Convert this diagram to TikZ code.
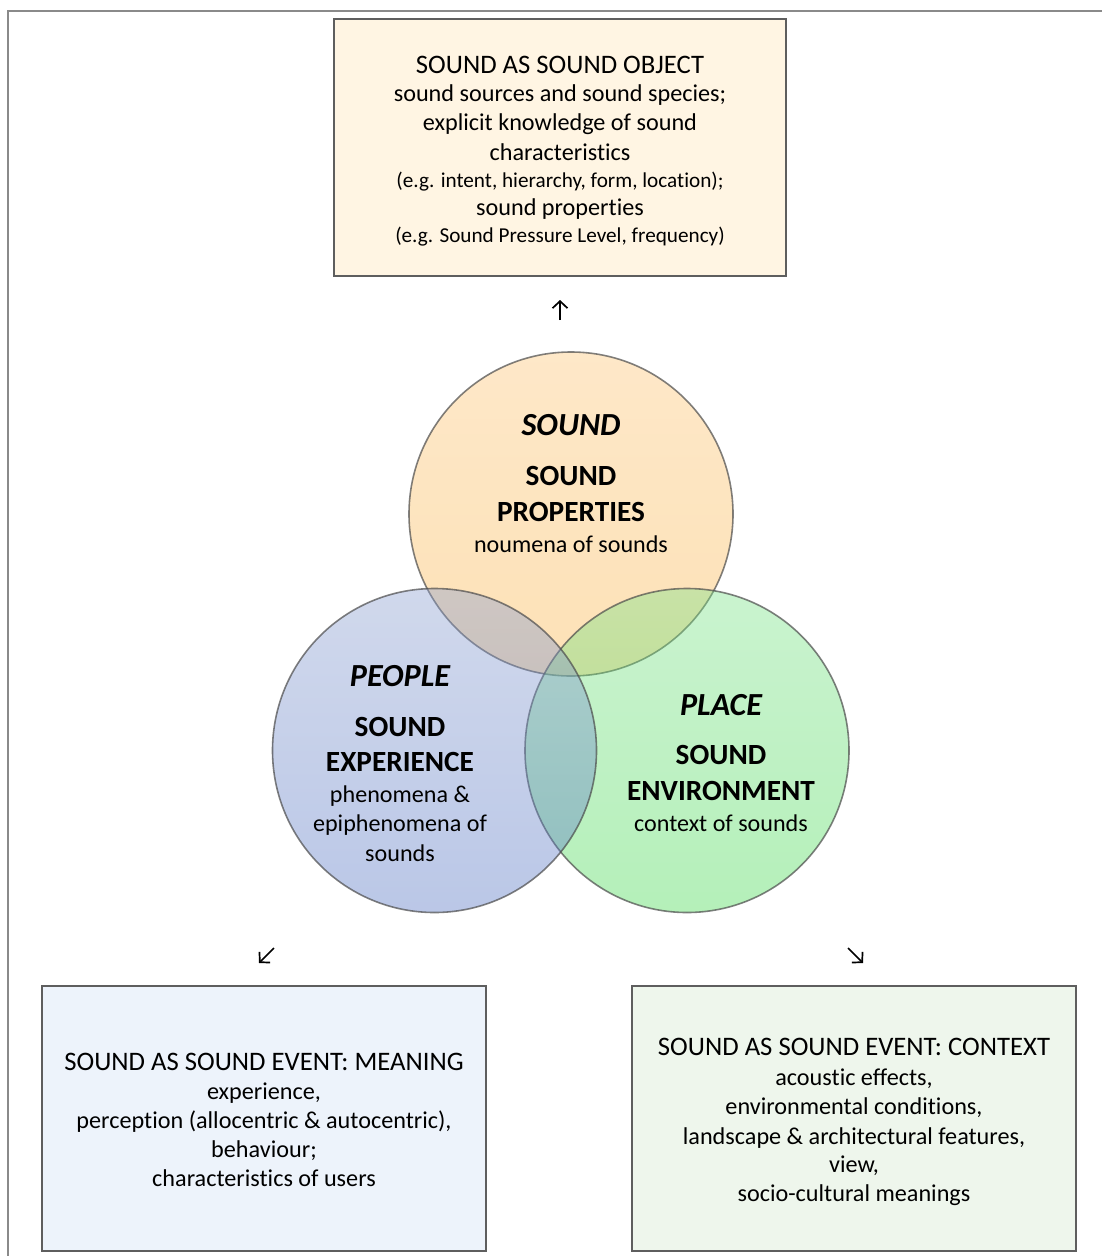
\documentclass[tikz,border=0pt]{standalone}
\usepackage{fontspec}
\setmainfont{Carlito}[Ligatures=NoCommon]
\usetikzlibrary{arrows.meta}

\definecolor{framegray}{HTML}{8A8A8A}
\definecolor{boxline}{HTML}{5E5E5E}
\definecolor{objfill}{HTML}{FFF5E3}
\definecolor{meanfill}{HTML}{EDF3FB}
\definecolor{ctxfill}{HTML}{EEF6EC}
\definecolor{soundtop}{HTML}{FCC576}
\definecolor{soundbot}{HTML}{FAB448}
\definecolor{peopletop}{HTML}{8A9ECF}
\definecolor{peoplebot}{HTML}{5373C3}
\definecolor{placetop}{HTML}{7AE187}
\definecolor{placebot}{HTML}{44D950}
\definecolor{ringgray}{HTML}{4A4A4A}

\tikzset{
  x=1pt, y=-1pt,
  infobox/.style={draw=boxline, line width=1.1pt},
  ring/.style={circle, minimum size=324pt, inner sep=0pt, draw=ringgray,
    line width=1.6pt, draw opacity=0.7, fill opacity=0.4},
  title/.style={anchor=base, inner sep=0pt, font=\fontsize{26.7}{32}\selectfont},
  body/.style={anchor=base, inner sep=0pt, font=\fontsize{24.2}{29}\selectfont},
  fine/.style={anchor=base, inner sep=0pt, font=\fontsize{21.2}{25}\selectfont},
  theme/.style={anchor=base, inner sep=0pt, font=\fontsize{32.2}{38}\selectfont\bfseries\itshape},
  aspect/.style={anchor=base, inner sep=0pt, font=\fontsize{29.3}{35}\selectfont\bfseries},
  gloss/.style={anchor=base, inner sep=0pt, font=\fontsize{24.1}{29}\selectfont},
  pointer/.style={line width=1.7pt, -{Straight Barb[length=7pt,width=15pt,line width=1.7pt]}},
}

\begin{document}
\begin{tikzpicture}
\useasboundingbox (0,0) rectangle (1102,1256);

% outer frame (top and left edges)
\draw[framegray, line width=1.4pt] (8,1256) -- (8,11) -- (1102,11);

% three text boxes
\draw[infobox, fill=objfill]  (334,19)  rectangle (786,276);
\draw[infobox, fill=meanfill] (42,986)  rectangle (486,1251);
\draw[infobox, fill=ctxfill]  (632,986) rectangle (1076,1251);

% Venn circles: sound first, then place, people on top
\node[ring, top color=soundtop,  bottom color=soundbot]  (csound)  at (571,514) {};
\node[ring, top color=placetop,  bottom color=placebot]  (cplace)  at (687,750.5) {};
\node[ring, top color=peopletop, bottom color=peoplebot] (cpeople) at (434.5,750.5) {};

% sound object box
\node[title] (o1) at (560,73.3)  {SOUND AS SOUND OBJECT};
\node[body]  (o2) at (560,101.7) {sound sources and sound species;};
\node[body]  (o3) at (560,130.5) {explicit knowledge of sound};
\node[body]  (o4) at (560,160.3) {characteristics};
\node[fine]  (o5) at (560,187.3) {(e.g. intent, hierarchy, form, location);};
\node[body]  (o6) at (560,215)   {sound properties};
\node[fine]  (o7) at (560,242.7) {(e.g. Sound Pressure Level, frequency)};

% sound circle
\node[theme]  (s1) at (571,435.7) {SOUND};
\node[aspect] (s2) at (571,485.7) {SOUND};
\node[aspect] (s3) at (571,521.7) {PROPERTIES};
\node[gloss]  (s4) at (571,552.3) {noumena of sounds};

% people circle
\node[theme]  (p1) at (400,686)   {PEOPLE};
\node[aspect] (p2) at (400,736)   {SOUND};
\node[aspect] (p3) at (400,771.7) {EXPERIENCE};
\node[gloss]  (p4) at (400,802.7) {phenomena \&};
\node[gloss]  (p5) at (400,831.7) {epiphenomena of};
\node[gloss]  (p6) at (400,861)   {sounds};

% place circle
\node[theme]  (l1) at (721,715)   {PLACE};
\node[aspect] (l2) at (721,764)   {SOUND};
\node[aspect] (l3) at (721,800)   {ENVIRONMENT};
\node[gloss]  (l4) at (721,831.7) {context of sounds};

% meaning box
\node[title] (m1) at (264,1070)   {SOUND AS SOUND EVENT: MEANING};
\node[body]  (m2) at (264,1099.3) {experience,};
\node[body]  (m3) at (264,1128.3) {perception (allocentric \& autocentric),};
\node[body]  (m4) at (264,1157.7) {behaviour;};
\node[body]  (m5) at (264,1186.7) {characteristics of users};

% context box
\node[title] (c1) at (854,1055)   {SOUND AS SOUND EVENT: CONTEXT};
\node[body]  (c2) at (854,1085)   {acoustic effects,};
\node[body]  (c3) at (854,1114.3) {environmental conditions,};
\node[body]  (c4) at (854,1144)   {landscape \& architectural features,};
\node[body]  (c5) at (854,1172.7) {view,};
\node[body]  (c6) at (854,1201.7) {socio-cultural meanings};

% small direction arrows
\coordinate (upfrom) at (560,320);
\coordinate (upto)   at (560,300);
\coordinate (dlfrom) at (274,948);
\coordinate (dlto)   at (259,963);
\coordinate (drfrom) at (848,948);
\coordinate (drto)   at (863,963);
\draw[pointer] (upfrom) -- (upto);
\draw[pointer] (dlfrom) -- (dlto);
\draw[pointer] (drfrom) -- (drto);
\end{tikzpicture}
\end{document}
